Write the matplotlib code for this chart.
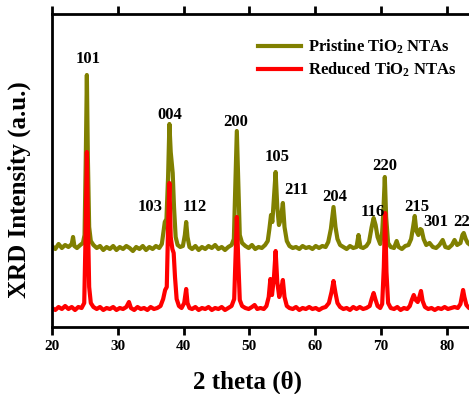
import matplotlib
matplotlib.use("Agg")
import matplotlib.pyplot as plt

# ---- data (intensity in arbitrary units) ----
pristine_2theta = [
    20.0, 20.5, 21.0, 21.5, 22.0, 22.5, 23.0, 23.2, 23.4, 23.8, 24.3, 24.7, 24.95, 25.15, 25.3, 25.45, 25.65, 25.9,
    26.3, 26.8, 27.3, 27.8, 28.3, 28.8, 29.3, 29.8, 30.3, 30.8, 31.3, 31.8, 32.3, 32.8, 33.3, 33.8, 34.3, 34.8,
    35.3, 35.8, 36.3, 36.7, 37.0, 37.15, 37.4, 37.65, 37.85, 38.05, 38.35, 38.55, 38.8, 39.1, 39.5, 39.9, 40.2,
    40.4, 40.6, 40.9, 41.3, 41.8, 42.3, 42.8, 43.3, 43.8, 44.3, 44.8, 45.3, 45.8, 46.3, 46.8, 47.3, 47.65, 47.9,
    48.1, 48.3, 48.55, 48.9, 49.4, 49.9, 50.4, 50.9, 51.4, 51.9, 52.4, 52.8, 53.05, 53.3, 53.5, 53.75, 54.0,
    54.25, 54.5, 54.8, 55.1, 55.35, 55.7, 56.1, 56.6, 57.1, 57.6, 58.1, 58.6, 59.1, 59.6, 60.1, 60.6, 61.1,
    61.6, 62.0, 62.4, 62.8, 63.1, 63.4, 63.8, 64.3, 64.8, 65.3, 65.8, 66.3, 66.6, 66.9, 67.3, 67.8, 68.2, 68.6,
    68.9, 69.2, 69.5, 69.9, 70.2, 70.4, 70.6, 70.8, 71.1, 71.5, 72.0, 72.4, 72.7, 73.2, 73.7, 74.2, 74.6, 74.9,
    75.15, 75.4, 75.7, 76.0, 76.2, 76.5, 76.9, 77.4, 77.9, 78.4, 78.9, 79.4, 79.8, 80.3, 80.8, 81.2, 81.6, 82.1,
    82.4, 82.6, 82.9, 83.2, 83.6, 84.0,
]
pristine_intensity = [
    81, 78, 83, 79, 82, 80, 83, 90, 81, 79, 82, 84, 92, 175, 252, 170, 100, 86,
    82, 79, 81, 77, 80, 78, 81, 77, 80, 78, 81, 79, 76, 80, 78, 81, 77, 80,
    78, 81, 79, 83, 98, 105, 108, 150, 203, 175, 154, 120, 90, 82, 80, 81, 92,
    105, 90, 80, 78, 81, 77, 80, 78, 81, 79, 82, 78, 80, 77, 80, 82, 88, 150,
    196, 150, 92, 84, 81, 79, 82, 78, 80, 79, 82, 86, 98, 112, 105, 130, 155,
    120, 102, 108, 124, 100, 86, 81, 79, 80, 78, 81, 79, 80, 78, 81, 79, 81,
    80, 85, 98, 120, 100, 88, 82, 80, 78, 81, 79, 80, 92, 80, 79, 81, 85, 100,
    109, 102, 90, 83, 95, 118, 150, 110, 84, 80, 79, 86, 80, 78, 81, 82, 88, 100,
    111, 96, 92, 98, 97, 88, 82, 84, 80, 79, 82, 87, 80, 79, 82, 87, 82, 84,
    92, 94, 88, 84, 82, 80,
]

reduced_2theta = [
    20.0, 20.5, 21.0, 21.5, 22.0, 22.5, 23.0, 23.5, 24.0, 24.5, 24.9, 25.1, 25.3, 25.45, 25.65, 25.9, 26.3, 26.8,
    27.3, 27.8, 28.3, 28.8, 29.3, 29.8, 30.3, 30.8, 31.3, 31.7, 32.0, 32.5, 33.0, 33.5, 34.0, 34.5, 35.0, 35.5,
    36.0, 36.5, 36.9, 37.2, 37.45, 37.65, 37.85, 38.05, 38.3, 38.5, 38.7, 38.95, 39.3, 39.7, 40.1, 40.4, 40.6,
    40.9, 41.3, 41.8, 42.3, 42.8, 43.3, 43.8, 44.3, 44.8, 45.3, 45.8, 46.3, 46.8, 47.3, 47.7, 47.95, 48.1, 48.3,
    48.55, 48.9, 49.4, 49.9, 50.4, 50.8, 51.2, 51.7, 52.2, 52.6, 52.95, 53.2, 53.45, 53.75, 54.0, 54.25, 54.55,
    54.85, 55.1, 55.35, 55.7, 56.1, 56.6, 57.1, 57.6, 58.1, 58.6, 59.1, 59.6, 60.1, 60.6, 61.1, 61.6, 62.1,
    62.5, 62.8, 63.1, 63.4, 63.8, 64.3, 64.8, 65.3, 65.8, 66.3, 66.8, 67.3, 67.8, 68.3, 68.6, 68.9, 69.2, 69.5,
    69.9, 70.2, 70.45, 70.65, 70.85, 71.1, 71.5, 72.0, 72.5, 73.0, 73.5, 74.0, 74.4, 74.7, 75.0, 75.3, 75.6,
    75.85, 76.1, 76.35, 76.7, 77.2, 77.7, 78.2, 78.7, 79.2, 79.7, 80.2, 80.7, 81.2, 81.7, 82.1, 82.35, 82.5,
    82.7, 83.0, 83.4, 84.0,
]
reduced_intensity = [
    19, 17, 20, 18, 21, 18, 20, 17, 20, 19, 24, 90, 175, 110, 40, 24, 20, 18,
    20, 17, 19, 18, 20, 17, 19, 18, 20, 25, 19, 17, 20, 18, 19, 17, 20, 18,
    19, 21, 28, 37, 40, 100, 144, 90, 78, 74, 50, 28, 21, 19, 24, 38, 24,
    19, 18, 20, 17, 19, 18, 20, 17, 19, 18, 20, 17, 19, 21, 28, 80, 110, 70,
    27, 21, 19, 18, 20, 22, 18, 19, 18, 21, 30, 48, 32, 50, 76, 45, 30,
    38, 47, 30, 21, 19, 18, 20, 17, 19, 18, 20, 18, 19, 17, 19, 20, 24,
    35, 46, 34, 24, 20, 18, 19, 17, 20, 18, 20, 18, 19, 21, 28, 34, 27, 21,
    19, 23, 60, 114, 55, 24, 19, 18, 20, 17, 19, 18, 21, 27, 32, 27, 25,
    30, 36, 26, 20, 18, 19, 17, 19, 18, 20, 18, 19, 20, 19, 23, 32, 37,
    30, 22, 19, 18,
]

peak_labels = ["101", "004", "200", "105", "211", "204", "103", "112", "116", "220", "215", "301", "224"]
label_x = [25.5, 37.9, 48.0, 54.2, 57.1, 63.0, 34.9, 41.7, 68.8, 70.6, 75.4, 78.4, 82.9]
label_y = [268, 212, 205, 170, 137, 130, 120, 120, 115, 161, 120, 105, 105]

series_names = ["Pristine TiO$_2$ NTAs", "Reduced TiO$_2$ NTAs"]
x_ticks = [20, 30, 40, 50, 60, 70, 80]

# ---- figure ----
plt.rcParams['font.family'] = ['Liberation Serif', 'DejaVu Serif']
plt.rcParams['mathtext.fontset'] = 'custom'
plt.rcParams['mathtext.rm'] = 'Liberation Serif:bold'
plt.rcParams['mathtext.it'] = 'Liberation Serif:bold'
plt.rcParams['mathtext.bf'] = 'Liberation Serif:bold'

fig = plt.figure(figsize=(4.69, 3.94), dpi=100)
W, H = 469, 394
ax = fig.add_axes([52 / W, 1 - 327 / H, (469 - 52) / W, (327 - 14) / H])

ax.plot(pristine_2theta, pristine_intensity, color="#808000", lw=3.0, label=series_names[0],
        solid_joinstyle='round')
ax.plot(reduced_2theta, reduced_intensity, color="#ff0000", lw=3.0, label=series_names[1],
        solid_joinstyle='round')

ax.set_xlim(20, 83.4)
ax.set_ylim(0, 313)

for lab, lx, ly in zip(peak_labels, label_x, label_y):
    ax.text(lx, ly, lab, ha="center", va="center", fontsize=12, fontweight="bold", clip_on=False)

ax.set_xticks(x_ticks)
ax.set_xticklabels([str(t) for t in x_ticks], fontweight="bold", fontsize=11)
ax.set_yticks([])
ax.tick_params(axis="x", direction="out", length=6, width=2, pad=3,
               top=True, labeltop=False)
for side in ["left", "bottom", "top"]:
    ax.spines[side].set_linewidth(2)
ax.spines["right"].set_visible(False)

ax.set_xlabel("2 theta (θ)", fontsize=18, fontweight="bold")
ax.xaxis.set_label_coords((247 - 52) / 417, (327 - 371) / 313)
ax.set_ylabel("XRD Intensity (a.u.)", fontsize=18, fontweight="bold")
ax.yaxis.set_label_coords((31 - 52) / 417, (327 - 190) / 313)

leg = ax.legend(loc="upper left", bbox_to_anchor=(0.458, 0.973), frameon=False,
                prop={"weight": "bold", "size": 12}, handlelength=2.6, handletextpad=0.4,
                labelspacing=0.3)
for line in leg.get_lines():
    line.set_linewidth(3)

fig.savefig("out.png", dpi=100)
